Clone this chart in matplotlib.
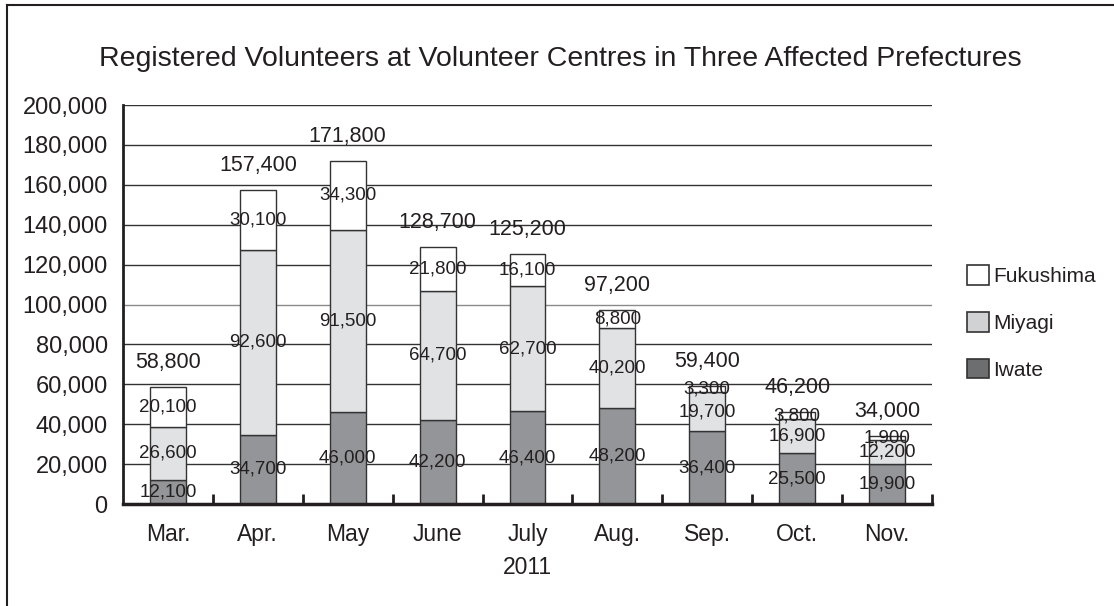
import matplotlib

matplotlib.use("Agg")
import matplotlib.pyplot as plt
from matplotlib.lines import Line2D
from matplotlib.patches import Patch
from matplotlib.ticker import FuncFormatter

plt.rcParams["font.family"] = ["Liberation Sans", "DejaVu Sans"]

months = ["Mar.", "Apr.", "May", "June", "July", "Aug.", "Sep.", "Oct.", "Nov."]
iwate = [12100, 34700, 46000, 42200, 46400, 48200, 36400, 25500, 19900]
miyagi = [26600, 92600, 91500, 64700, 62700, 40200, 19700, 16900, 12200]
fukushima = [20100, 30100, 34300, 21800, 16100, 8800, 3300, 3800, 1900]
totals = [58800, 157400, 171800, 128700, 125200, 97200, 59400, 46200, 34000]
year_label = "2011"
title = "Registered Volunteers at Volunteer Centres in Three Affected Prefectures"

INK = "#231f20"
colors = {"Iwate": "#949598", "Miyagi": "#e1e2e3", "Fukushima": "#ffffff"}
legend_colors = {"Iwate": "#6d6e70", "Miyagi": "#d1d2d4", "Fukushima": "#ffffff"}

fig = plt.figure(figsize=(11.14, 6.06), dpi=100)
ax = fig.add_axes([0.1104, 0.1683, 0.7262, 0.6584])

x = list(range(len(months)))
width = 0.4
bottom = [0] * len(months)
for name, vals in [("Iwate", iwate), ("Miyagi", miyagi), ("Fukushima", fukushima)]:
    ax.bar(x, vals, width, bottom=bottom, color=colors[name], edgecolor="#333333",
           linewidth=1.0, zorder=2)
    for i, v in enumerate(vals):
        ax.text(i, bottom[i] + v / 2, f"{v:,}", ha="center", va="center",
                fontsize=13.5, color=INK, zorder=3)
    bottom = [b + v for b, v in zip(bottom, vals)]

for i, t in enumerate(totals):
    ax.annotate(f"{t:,}", (i, bottom[i]), xytext=(0, 10), textcoords="offset points",
                ha="center", va="bottom", fontsize=15.5, color=INK)

ax.set_xlim(-0.5, len(months) - 0.5)
ax.set_ylim(0, 200000)
ax.set_yticks(range(0, 200001, 20000))
ax.yaxis.set_major_formatter(FuncFormatter(lambda v, _: f"{int(v):,}"))
ax.set_xticks(x)
ax.set_xticklabels(months)
ax.set_xticks([i + 0.5 for i in x], minor=True)
ax.tick_params(axis="x", which="major", length=0, pad=14, labelsize=16.5, labelcolor=INK)
ax.tick_params(axis="x", which="minor", direction="in", length=7, width=2, color=INK)
ax.tick_params(axis="y", length=0, pad=11, labelsize=17, labelcolor=INK)
ax.set_xlabel(year_label, fontsize=16.5, color=INK, labelpad=7)

ax.set_axisbelow(True)
ax.yaxis.grid(True, color="#333333", linewidth=1.0)
ax.get_ygridlines()[5].set_color("#8a8a8a")

ax.spines["top"].set_visible(False)
ax.spines["right"].set_visible(False)
ax.spines["left"].set_linewidth(2)
ax.spines["left"].set_color(INK)
ax.spines["bottom"].set_linewidth(2.5)
ax.spines["bottom"].set_color(INK)

handles = [Patch(facecolor=legend_colors[n], edgecolor="#333333", linewidth=1.2, label=n)
           for n in ["Fukushima", "Miyagi", "Iwate"]]
fig.legend(handles=handles, loc="upper left", bbox_to_anchor=(0.851, 0.593), frameon=False,
           fontsize=15, handlelength=1.05, handleheight=1.05, handletextpad=0.2,
           labelspacing=1.25, labelcolor=INK)

fig.text(0.503, 0.902, title, ha="center", va="center", fontsize=20.5, color=INK)

# partial frame around the picture (left and top edges)
fig.add_artist(Line2D([0.0063, 0.0063], [0.0, 0.992], transform=fig.transFigure,
                      color=INK, linewidth=1.5))
fig.add_artist(Line2D([0.0063, 1.0], [0.992, 0.992], transform=fig.transFigure,
                      color=INK, linewidth=1.5))

fig.savefig("out.png", dpi=100)
